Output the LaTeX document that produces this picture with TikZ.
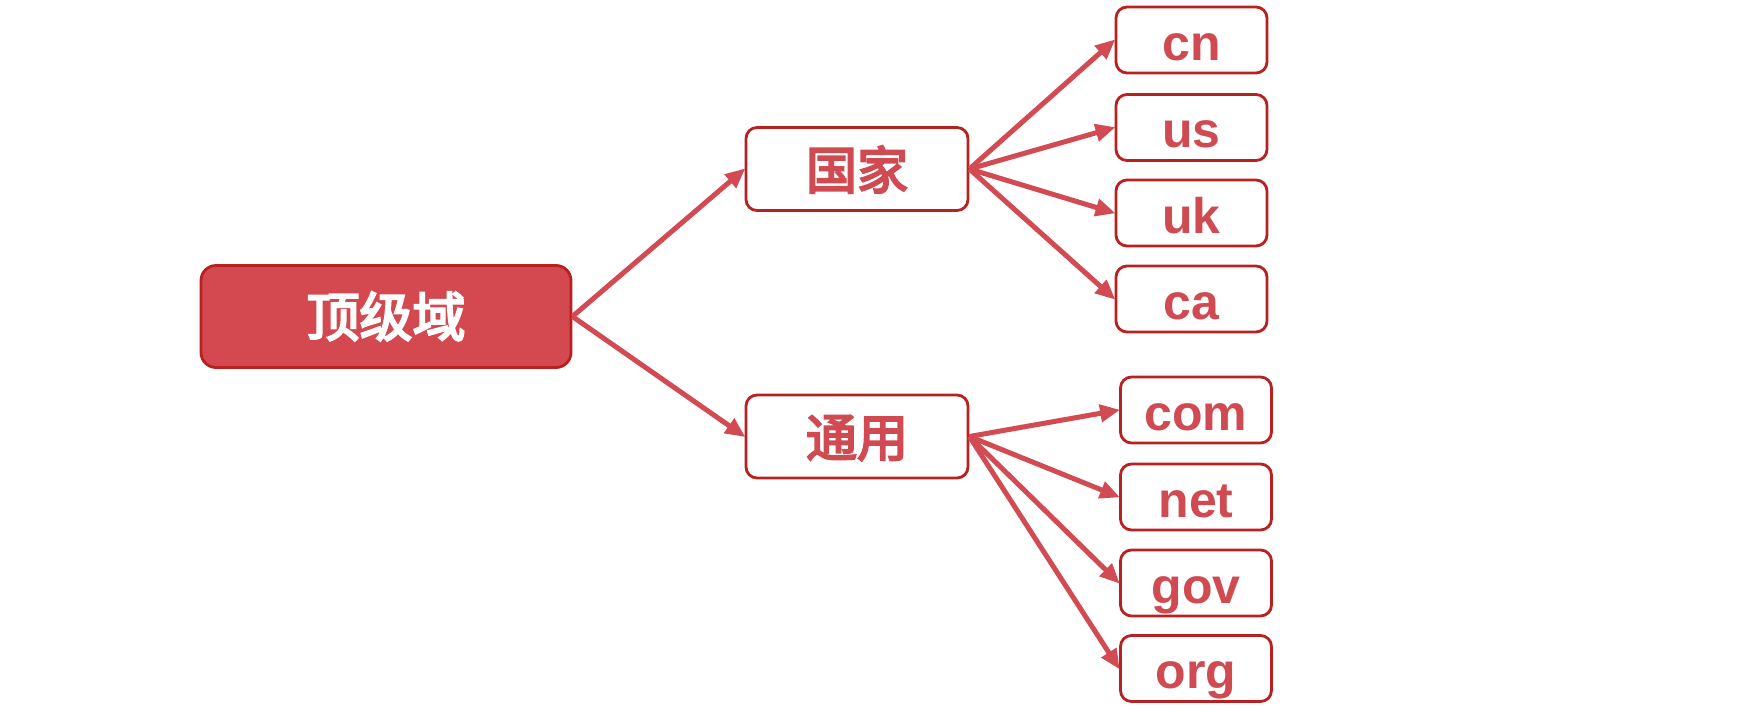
\documentclass[tikz,border=0pt]{standalone}
\usepackage{fontspec}
\setmainfont{Liberation Sans}
\newfontfamily\cjk[BoldFont={Noto Sans CJK SC}, BoldFeatures={FakeBold=4}]{Noto Sans CJK SC}
\usetikzlibrary{arrows.meta}
\definecolor{arrowred}{HTML}{D24A52}
\definecolor{boxborder}{HTML}{B8211F}
\definecolor{rootfill}{HTML}{D3494F}
\definecolor{textred}{HTML}{D04A52}
\tikzset{
  box/.style={draw=boxborder, line width=2.8pt, rounded corners=11pt, fill=white,
    inner sep=0pt, text height=40pt, text depth=0pt, text=textred,
    font=\fontsize{50pt}{50pt}\selectfont\bfseries},
  rootbox/.style={box, fill=rootfill, text=white, rounded corners=15pt,
    minimum width=370pt, minimum height=102pt, font=\fontsize{53pt}{53pt}\selectfont\cjk\bfseries},
  midbox/.style={box, minimum width=222pt, minimum height=83pt, font=\fontsize{51pt}{51pt}\selectfont\cjk\bfseries},
  leafbox/.style={box, minimum width=151pt, minimum height=66pt},
  conn/.style={draw=arrowred, line width=5pt, -{Triangle[length=20pt,width=17pt]}, shorten >=-1pt}
}
\begin{document}
\begin{tikzpicture}[x=1pt,y=-1pt]
\useasboundingbox (0,0) rectangle (1740,710);
\node[rootbox] (root) at (386,316.5) {顶级域};
\node[midbox] (guojia) at (857,169) {国家};
\node[midbox] (tongyong) at (857,436.5) {通用};
\node[leafbox] (cn) at (1191.5,40) {cn};
\node[leafbox] (us) at (1191.5,127.5) {us};
\node[leafbox] (uk) at (1191.5,213) {uk};
\node[leafbox] (ca) at (1191.5,299) {ca};
\node[leafbox] (com) at (1196,410) {com};
\node[leafbox] (net) at (1196,497) {net};
\node[leafbox] (gov) at (1196,583) {gov};
\node[leafbox] (org) at (1196,668.5) {org};
\draw[conn] (root.east) -- (guojia.west);
\draw[conn] (root.east) -- (tongyong.west);
\foreach \t in {cn,us,uk,ca} \draw[conn] (guojia.east) -- (\t.west);
\foreach \t in {com,net,gov,org} \draw[conn] (tongyong.east) -- (\t.west);
\end{tikzpicture}
\end{document}
